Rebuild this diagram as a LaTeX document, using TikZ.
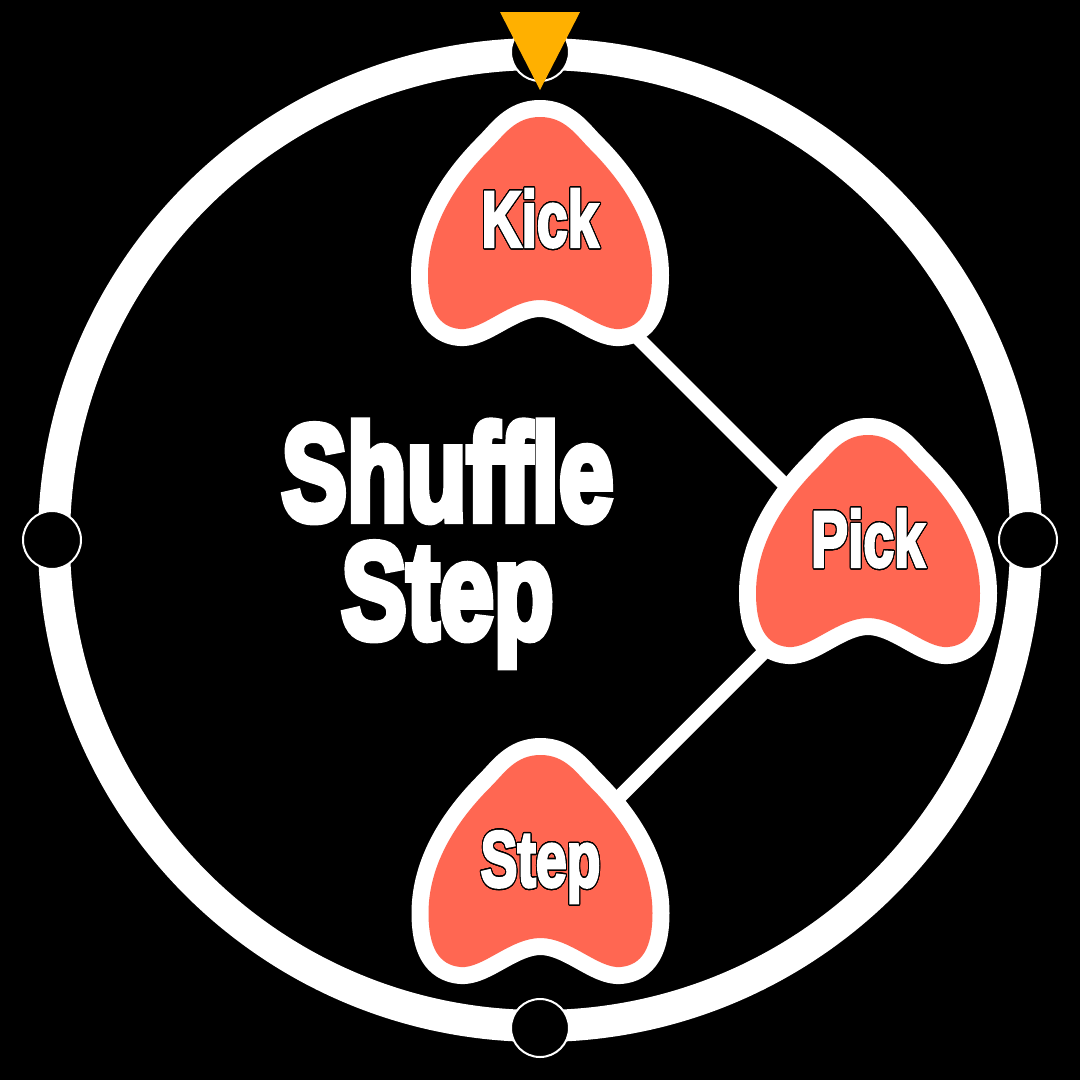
\documentclass[tikz,border=0pt]{standalone}
\usepackage{fontspec}
\setmainfont{Liberation Sans}
\newfontface\titlefont{Liberation Sans}[UprightFont=* Bold, FakeBold=6]
\newfontface\labfont{Liberation Sans}[UprightFont=* Bold, FakeBold=4]
\usepackage{contour}
\contourlength{1.4pt}
\contournumber{24}
\pgfdeclarelayer{bglayer}
\pgfdeclarelayer{shapelayer}
\pgfsetlayers{bglayer,shapelayer,main}
\definecolor{coral}{HTML}{FF6752}
\definecolor{amber}{HTML}{FFB000}
\tikzset{
  pickpath/.style={insert path={(0,-102) .. controls (25,-102) and (36,-84) .. (50,-70)
      .. controls (75,-45) and (112,0) .. (112,56)
      .. controls (112,90) and (102,108) .. (80,110)
      .. controls (58,112) and (30,81) .. (0,81)
      .. controls (-30,81) and (-58,112) .. (-80,110)
      .. controls (-102,108) and (-112,90) .. (-112,56)
      .. controls (-112,0) and (-75,-45) .. (-50,-70)
      .. controls (-36,-84) and (-25,-102) .. (0,-102) -- cycle}},
  pickshape/.pic={
    \path[draw=white, line width=34pt, line join=round, pickpath];
    \path[fill=coral, pickpath];
  },
  lab/.style={text=white, font=\fontsize{79}{79}\labfont, anchor=base, inner sep=0pt},
  title/.style={text=white, font=\fontsize{136}{136}\titlefont, anchor=base, inner sep=0pt},
  conn/.style={white, line width=14pt},
  marker/.style={fill=black, draw=white, line width=2pt},
}
\begin{document}
\begin{tikzpicture}[x=1pt, y=-1pt]
\useasboundingbox (0,0) rectangle (1080,1080);
\begin{pgfonlayer}{bglayer}
  \fill[black] (0,0) rectangle (1080,1080);
  \draw[white, line width=32pt] (540,540) circle[radius=486pt];
  \path[marker] (540,52) circle[radius=29pt];
  \path[marker] (52,540) circle[radius=29pt];
  \path[marker] (1028,540) circle[radius=29pt];
  \path[marker] (540,1028) circle[radius=29pt];
  \fill[amber] (500,12) -- (580,12) -- (540,90) -- cycle;
\end{pgfonlayer}

\node[title] (title1) at (447.5,520) {\scalebox{0.72}[1]{Shuffle}};
\node[title] (title2) at (447.5,638) {\scalebox{0.72}[1]{Step}};

\node[lab] (kick) at (540,246.5) {\scalebox{0.7}[1]{\contour{black}{Kick}}};
\node[lab] (pick) at (868,566.5) {\scalebox{0.7}[1]{\contour{black}{Pick}}};
\node[lab] (step) at (540.5,886.5) {\scalebox{0.7}[1]{\contour{black}{Step}}};

\begin{pgfonlayer}{bglayer}
  \draw[conn] ([yshift=6.5pt]kick.base) -- ([yshift=-1.5pt]pick.base);
  \draw[conn] ([yshift=18.5pt]pick.base) -- ([yshift=10.5pt]step.base);
\end{pgfonlayer}

\begin{pgfonlayer}{shapelayer}
  \pic at ([yshift=27.5pt]kick.base) {pickshape};
  \pic at ([yshift=29.5pt]pick.base) {pickshape};
  \pic at ([yshift=29.5pt]step.base) {pickshape};
\end{pgfonlayer}
\end{tikzpicture}
\end{document}
